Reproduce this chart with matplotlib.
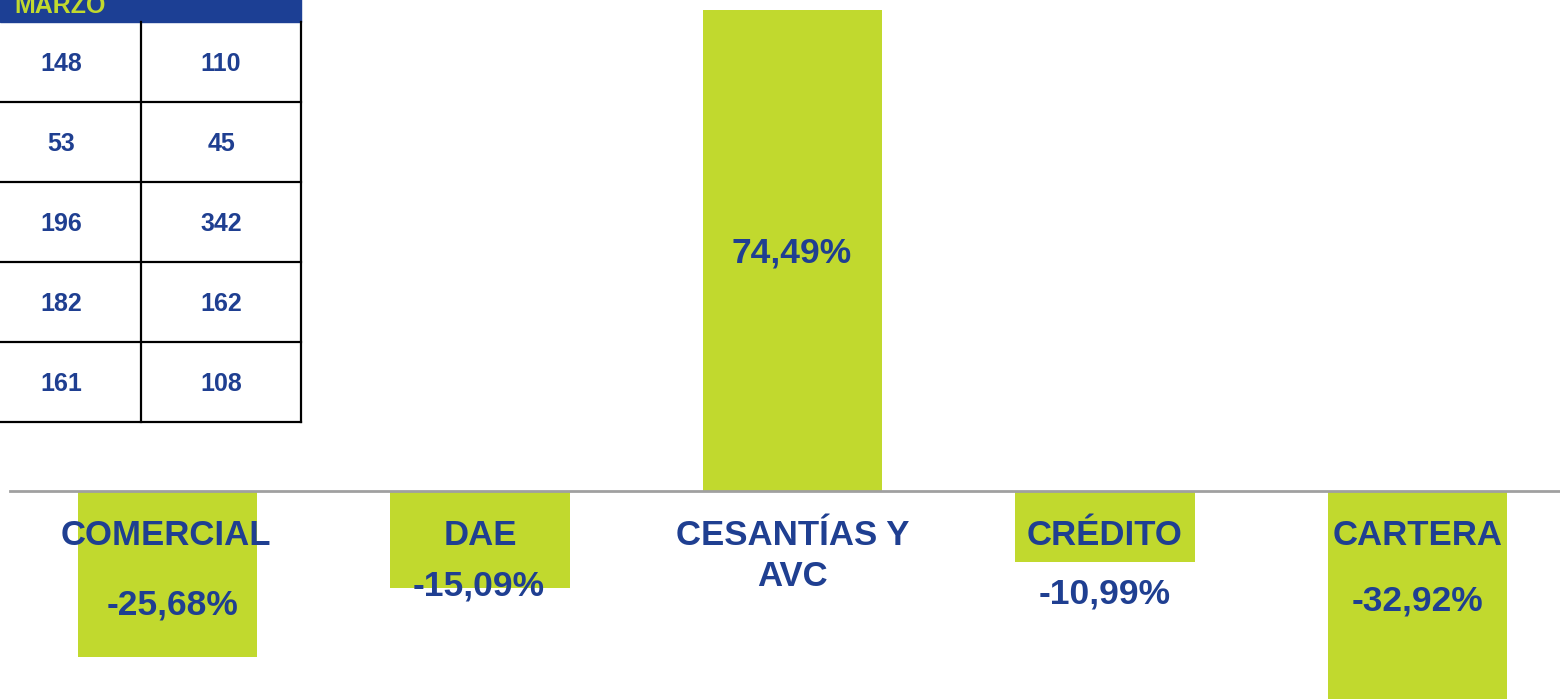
import matplotlib
matplotlib.use("Agg")
import matplotlib.pyplot as plt
from matplotlib.patches import Rectangle

plt.rcParams['font.family'] = ['Liberation Sans', 'DejaVu Sans']

# Data
categories = ['COMERCIAL', 'DAE', 'CESANTÍAS Y\nAVC', 'CRÉDITO', 'CARTERA']
variation = [-25.68, -15.09, 74.49, -10.99, -32.92]
value_labels = ['-25,68%', '-15,09%', '74,49%', '-10,99%', '-32,92%']

table_header = 'MARZO'
table_col1 = [148, 53, 196, 182, 161]
table_col2 = [110, 45, 342, 162, 108]

green = '#C1D92E'
blue = '#1F3F91'
W, H = 1560, 699

fig = plt.figure(figsize=(W / 100, H / 100), dpi=100)

# bar chart axes, full figure
ax = fig.add_axes([0, 0, 1, 1])
x = list(range(len(categories)))
ax.bar(x, variation, width=0.573, color=green, zorder=2)
ax.set_xlim(-0.536, 4.456)
ax.set_ylim(-32.21, 76.04)
ax.axhline(0, xmin=10 / W, xmax=1, color='#A0A0A0', lw=2, zorder=3)
ax.axis('off')

# category names under the baseline (offsets in points)
cat_dx = [-1, 0, 0, 0, 0]
for i, c in enumerate(categories):
    ax.annotate(c, xy=(x[i], 0), xytext=(cat_dx[i], -20), textcoords='offset points',
                ha='center', va='top', fontsize=25, fontweight='bold', color=blue,
                linespacing=1.3, zorder=4)

# overlay axes in pixel coordinates for value labels and table
ov = fig.add_axes([0, 0, 1, 1])
ov.set_xlim(0, W)
ov.set_ylim(H, 0)
ov.axis('off')
ov.patch.set_alpha(0)

val_pos = [(172, 605), (479, 586), (792, 253), (1105, 594), (1417, 601)]
for (px, py), lab in zip(val_pos, value_labels):
    ov.text(px, py, lab, ha='center', va='center', fontsize=25.5, fontweight='bold', color=blue)

# table
col_edges = [0, 141, 301]
row_edges = [22, 102, 182, 262, 342, 422]
ov.add_patch(Rectangle((0, -5), 301, 27, color='#1C3F94', zorder=1))
ov.text(60, 6, table_header, ha='center', va='center', fontsize=18, fontweight='bold', color=green)
for r in range(len(table_col1)):
    yc = (row_edges[r] + row_edges[r + 1]) / 2 + 2
    ov.text(61, yc, str(table_col1[r]), ha='center', va='center', fontsize=18, fontweight='bold', color=blue)
    ov.text(221, yc, str(table_col2[r]), ha='center', va='center', fontsize=18, fontweight='bold', color=blue)
for ye in row_edges[1:]:
    ov.plot([0, 301], [ye, ye], color='black', lw=1.6)
for xe in col_edges[1:]:
    ov.plot([xe, xe], [22, 422], color='black', lw=1.6)

fig.savefig('out.png', dpi=100)
